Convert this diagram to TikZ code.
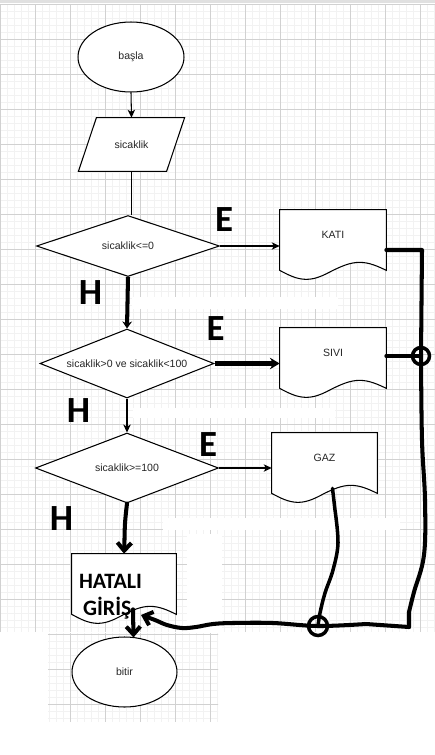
\documentclass[tikz,border=0pt]{standalone}
\usepackage{fontspec}
\setmainfont{Liberation Sans}
\newfontfamily\markfont{Carlito}
\usetikzlibrary{positioning,calc,shapes.geometric,arrows.meta}

\pgfdeclarelayer{paper}
\pgfdeclarelayer{frames}
\pgfsetlayers{paper,frames,main}

\tikzset{
    minorgrid/.style={draw=black!5, line width=0.35pt},
    majorgrid/.style={draw=black!18, line width=0.45pt},
    outline/.style={draw=black, line width=0.6pt, fill=white},
    flowtext/.style={font=\fontsize{6}{7.2}\selectfont, text=black!85},
    terminal/.style={outline, flowtext, ellipse, inner sep=0pt, minimum width=2.12cm, minimum height=1.4cm},
    inbox/.style={flowtext, rectangle, inner sep=0pt, minimum width=1.75cm, minimum height=1.06cm},
    decision/.style={outline, flowtext, diamond, aspect=2.5, inner sep=0pt},
    docbox/.style={flowtext, rectangle, inner sep=0pt, minimum width=2.12cm, minimum height=1.2cm, text depth=6pt},
    branch/.style={font=\markfont\bfseries\fontsize{21}{21}\selectfont, inner sep=0pt},
    flow/.style={line width=0.6pt, -{Stealth[length=4.5pt, width=4.2pt, inset=1.2pt]}},
    heavy/.style={line width=2.3pt, line cap=round, line join=round},
    barb/.style={-{Straight Barb[length=4.5pt, width=8pt]}},
}

% document shape: straight top, wavy bottom
\newcommand{\docoutline}[1]{%
    \begin{pgfonlayer}{frames}
        \draw[outline] (#1.south west) -- (#1.north west) -- (#1.north east) -- (#1.south east)
            sin ($(#1.south east)!0.25!(#1.south west)+(0,-8)$)
            cos ($(#1.south east)!0.5!(#1.south west)$)
            sin ($(#1.south east)!0.75!(#1.south west)+(0,9)$)
            cos (#1.south west) -- cycle;
    \end{pgfonlayer}}

\begin{document}
\begin{tikzpicture}[x=0.02cm, y=-0.02cm]
    \useasboundingbox (0,0) rectangle (435,755);

    % squared paper
    \begin{pgfonlayer}{paper}
        \fill[white] (0,0) rectangle (435,755);
        \fill[black!12] (0,0) rectangle (435,3);
        \foreach \i in {0,...,62} \draw[minorgrid] ({0.7+7*\i},4) -- ({0.7+7*\i},632);
        \foreach \j in {0,...,89} \draw[minorgrid] (0,{4+7*\j}) -- (435,{4+7*\j});
        \foreach \i in {0,...,12} \draw[majorgrid] ({0.7+35*\i},4) -- ({0.7+35*\i},632);
        \foreach \j in {0,...,17} \draw[majorgrid] (0,{4+35*\j}) -- (435,{4+35*\j});
        \begin{scope}
            \clip (48,633) rectangle (218,722);
            \foreach \i in {0,...,62} \draw[minorgrid] ({0.7+7*\i},633) -- ({0.7+7*\i},722);
            \foreach \j in {90,...,103} \draw[minorgrid] (0,{4+7*\j}) -- (435,{4+7*\j});
            \foreach \i in {0,...,12} \draw[majorgrid] ({0.7+35*\i},633) -- ({0.7+35*\i},722);
            \foreach \j in {18,...,20} \draw[majorgrid] (0,{4+35*\j}) -- (435,{4+35*\j});
        \end{scope}
        \fill[white] (132,297) rectangle (338,309);
        \fill[white] (133,408) rectangle (335,418);
        \fill[white] (163,518) rectangle (400,530);
        \fill[white] (187,534) rectangle (222,632);
    \end{pgfonlayer}

    \node[terminal] (basla) at (131,57) {başla};

    \node[inbox] (sicaklik) at (131.5,144.5) {sicaklik};
    \begin{pgfonlayer}{frames}
        \draw[outline] ([shift={(9,0)}]sicaklik.north west) -- ([shift={(9,0)}]sicaklik.north east)
            -- ([shift={(-9,0)}]sicaklik.south east) -- ([shift={(-9,0)}]sicaklik.south west) -- cycle;
    \end{pgfonlayer}

    \node[decision, minimum width=3.66cm, minimum height=1.22cm] (kosul1) at (128,246) {sicaklik<=0};
    \node[decision, minimum width=3.48cm, minimum height=1.38cm] (kosul2) at (127,363.5) {sicaklik>0 ve sicaklik<100};
    \node[decision, minimum width=3.66cm, minimum height=1.4cm] (kosul3) at (127,468) {sicaklik>=100};

    \node[docbox] (kati) at (333,240) {KATI};
    \docoutline{kati}
    \node[docbox] (sivi) at (333,358) {SIVI};
    \docoutline{sivi}
    \node[docbox, minimum width=2.1cm] (gaz) at (324.5,463) {GAZ};
    \docoutline{gaz}
    \node[docbox, minimum width=2.08cm, text depth=3pt, inner xsep=0.14cm, text width=1.8cm, align=left,
          font=\markfont\bfseries\fontsize{12.5}{15.5}\selectfont, text=black] (hatali) at (124,584)
          {HATALI\\\hspace*{2.3pt}GİRİŞ};
    \docoutline{hatali}

    \node[terminal, minimum width=2.1cm] (bitir) at (124.5,672) {bitir};

    % E / H labels
    \node[branch] (e1) at (224,220) {E};
    \node[branch] (e2) at (215.5,328.5) {E};
    \node[branch] (e3) at (208,444.5) {E};
    \node[branch] (h1) at (90.5,293) {H};
    \node[branch] (h2) at (78.5,411) {H};
    \node[branch] (h3) at (61.5,519) {H};

    % main line
    \draw[flow] (basla.south) -- (sicaklik.north);
    \draw[line width=0.6pt] (sicaklik.south) -- (sicaklik.south |- kosul1.north);
    \draw[flow] (kosul1.east) -- (kosul1.east -| kati.west);
    \draw[heavy, line cap=butt, -{Stealth[length=4pt, width=5.5pt]}] (kosul1.south) -- (kosul2.north);
    \draw[heavy, line cap=butt, -{Stealth[length=5.5pt, width=6.5pt]}] (kosul2.east) -- (kosul2.east -| sivi.west);
    \draw[flow] (kosul2.south) -- (kosul3.north);
    \draw[flow] (kosul3.east) -- (kosul3.east -| gaz.west);
    \draw[heavy, barb] (kosul3.south) .. controls +(-3,25) and +(1,-25) .. (hatali.north);
    \draw[heavy, barb] ([shift={(9,-5)}]hatali.south) -- ([shift={(9,1)}]bitir.north);

    % hand drawn collector
    \coordinate (kose) at (422,250);
    \coordinate (knot1) at (421,356);
    \coordinate (knot2) at (318,626);
    \coordinate (altkose) at (409,627);

    \draw[heavy] ([shift={(0,10)}]kati.east) -- (kose) -- (knot1);
    \draw[heavy] ([shift={(0,-2)}]sivi.east) -- (knot1);
    \draw[heavy] plot[smooth, tension=0.6] coordinates {(knot1) (422,440) (425,500) (424,555) (414,592) (409,612)} -- (altkose);
    \draw[heavy, barb] (altkose) -- plot[smooth, tension=0.6] coordinates {(366,624) (knot2) (273,623) (233,623) (213,624) (196,627) (182,628) (167,625) (155,620) (141,615)};
    \draw[heavy, line width=2pt] ([shift={(8,-5)}]gaz.south) -- plot[smooth, tension=0.6] coordinates {(335,510) (338,543) (333,570) (325,593) (320,613) (knot2)};
    \draw[line width=2pt] (knot1) circle[radius=0.17cm];
    \draw[line width=2pt] (knot2) circle[radius=0.19cm];

\end{tikzpicture}
\end{document}
